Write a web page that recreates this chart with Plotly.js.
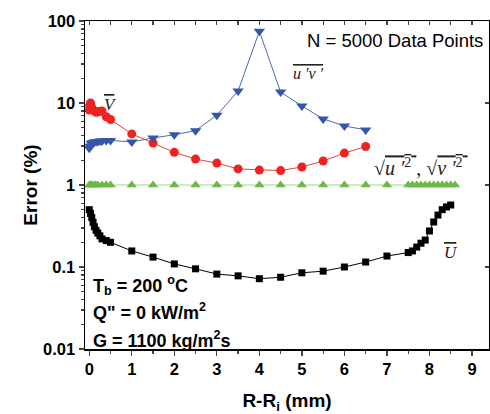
<!DOCTYPE html>
<html>
<head>
<meta charset="utf-8">
<script src="https://cdn.plot.ly/plotly-3.0.1.min.js"></script>
<style>html,body{margin:0;padding:0;background:#fff;}#chart{width:490px;height:414px;}</style>
</head>
<body>
<div id="chart"></div>
<script>
// Mean axial velocity U
const uX   = [0, 0.03, 0.06, 0.09, 0.12, 0.16, 0.2, 0.25, 0.3, 0.4, 0.5, 1, 1.5, 2, 2.5, 3, 3.5, 4, 4.5, 5, 5.5, 6, 6.5, 7, 7.5, 7.6, 7.7, 7.8, 7.9, 8.0, 8.1, 8.2, 8.3, 8.4, 8.5];
const uErr = [0.5, 0.45, 0.40, 0.35, 0.31, 0.28, 0.26, 0.24, 0.22, 0.21, 0.20, 0.157, 0.132, 0.109, 0.095, 0.082, 0.078, 0.072, 0.075, 0.085, 0.089, 0.1, 0.115, 0.136, 0.15, 0.157, 0.175, 0.195, 0.213, 0.275, 0.354, 0.43, 0.5, 0.54, 0.57];
// Mean radial velocity V
const vX   = [0, 0.01, 0.03, 0.05, 0.08, 0.12, 0.16, 0.2, 0.25, 0.3, 0.4, 0.5, 1, 1.5, 2, 2.5, 3, 3.5, 4, 4.5, 5, 5.5, 6, 6.5];
const vErr = [8.2, 9.3, 10.0, 9.0, 8.3, 8.0, 7.7, 7.8, 7.9, 8.0, 6.8, 6.3, 4.2, 3.25, 2.5, 2.07, 1.85, 1.57, 1.52, 1.5, 1.66, 1.96, 2.45, 2.95];
// Reynolds shear stress u'v'
const uvX   = [0, 0.02, 0.05, 0.08, 0.12, 0.16, 0.2, 0.25, 0.3, 0.4, 0.5, 1, 1.5, 2, 2.5, 3, 3.5, 4, 4.5, 5, 5.5, 6, 6.5];
const uvErr = [2.8, 3.0, 3.2, 3.3, 3.35, 3.4, 3.4, 3.45, 3.45, 3.5, 3.5, 3.35, 3.75, 4.1, 4.6, 7.1, 14, 75, 13.6, 9.2, 6.4, 5.25, 4.7];
// RMS fluctuations
const rmsX   = [0, 0.03, 0.06, 0.1, 0.15, 0.2, 0.3, 0.4, 0.5, 1, 1.5, 2, 2.5, 3, 3.5, 4, 4.5, 5, 5.5, 6, 6.5, 7, 7.5, 7.6, 7.7, 7.8, 7.9, 8.0, 8.1, 8.2, 8.3, 8.4, 8.5, 8.6];
const rmsErr = [1, 1, 1, 1, 1, 1, 1, 1, 1, 1, 1, 1, 1, 1, 1, 1, 1, 1, 1, 1, 1, 1, 1, 1, 1, 1, 1, 1, 1, 1, 1, 1, 1, 1];

const xTicks = [0, 1, 2, 3, 4, 5, 6, 7, 8, 9];
const yTicks = [0.01, 0.1, 1, 10, 100];
const yTickText = ['0.01', '0.1', '1', '10', '100'];

const traces = [
  {x: rmsX, y: rmsErr, mode: 'lines+markers', line: {color: '#9fd38a', width: 1.2},
   marker: {symbol: 'triangle-up', size: 9, color: '#6cb945'}, name: 'rms'},
  {x: uX, y: uErr, mode: 'lines+markers', line: {color: '#000', width: 1},
   marker: {symbol: 'square', size: 7, color: '#000'}, name: 'U'},
  {x: vX, y: vErr, mode: 'lines+markers', line: {color: '#f03c3c', width: 1},
   marker: {symbol: 'circle', size: 9, color: '#ee2222'}, name: 'V'},
  {x: uvX, y: uvErr, mode: 'lines+markers', line: {color: '#4a68b8', width: 1},
   marker: {symbol: 'triangle-down', size: 10, color: '#3556a8'}, name: 'uv'},
  {x: [], y: [], xaxis: 'x2', yaxis: 'y2', showlegend: false, hoverinfo: 'skip'}
];

const tickFont = {family: 'Liberation Sans, Arial, sans-serif', size: 16.5, color: '#000', weight: 'bold'};
const serif = {family: 'Liberation Serif, Times New Roman, serif', size: 17, color: '#222'};
const boldFont = {family: 'Liberation Sans, Arial, sans-serif', size: 18, color: '#000', weight: 'bold'};
const ol = s => '<span style="text-decoration:overline">' + s + '</span>';

const layout = {
  width: 490, height: 414,
  margin: {l: 85, r: 1, t: 21, b: 65},
  paper_bgcolor: '#fff', plot_bgcolor: '#fff',
  showlegend: false,
  xaxis: {
    range: [-0.1, 9.4], tickvals: xTicks, ticks: 'outside', ticklen: 5, tickwidth: 1.3,
    minor: {dtick: 0.5, tick0: 0, ticks: 'outside', ticklen: 3, tickwidth: 1.3, showgrid: false},
    showline: true, linewidth: 1.5, linecolor: '#000', mirror: true, showgrid: false, zeroline: false,
    tickfont: tickFont,
    title: {text: '<b>R-R<sub>i</sub> (mm)</b>', font: {family: 'Liberation Sans, Arial, sans-serif', size: 19, color: '#000'}}
  },
  yaxis: {
    type: 'log', range: [-2, 2], tickvals: yTicks, ticktext: yTickText,
    ticks: 'outside', ticklen: 5, tickwidth: 1.3,
    minor: {dtick: 'D1', ticks: 'outside', ticklen: 3, tickwidth: 1.3, showgrid: false},
    showline: true, linewidth: 1.5, linecolor: '#000', mirror: true, showgrid: false, zeroline: false,
    tickfont: tickFont,
    title: {text: '<b>Error (%)</b>', font: {family: 'Liberation Sans, Arial, sans-serif', size: 19, color: '#000'}}
  },
  xaxis2: {
    overlaying: 'x', side: 'top', anchor: 'y', range: [-0.1, 9.4], tickvals: xTicks,
    ticks: 'inside', ticklen: 4, tickwidth: 1.3, showticklabels: false,
    minor: {dtick: 0.5, tick0: 0, ticks: 'inside', ticklen: 4, tickwidth: 1.3, showgrid: false},
    showline: false, showgrid: false, zeroline: false
  },
  yaxis2: {
    overlaying: 'y', side: 'right', anchor: 'x', type: 'log', range: [-2, 2], tickvals: yTicks,
    ticks: 'inside', ticklen: 4, tickwidth: 1.3, showticklabels: false,
    showline: false, showgrid: false, zeroline: false
  },
  annotations: [
    {xref: 'paper', yref: 'paper', x: 0.99, y: 0.94, xanchor: 'right', yanchor: 'middle', showarrow: false,
     text: 'N = 5000 Data Points', font: {family: 'Liberation Sans, Arial, sans-serif', size: 18.5, color: '#000'}},
    {xref: 'x', yref: 'paper', x: 0.05, y: 0.195, xanchor: 'left', yanchor: 'middle', showarrow: false,
     text: 'T<sub>b</sub> = 200 <sup>o</sup>C', font: boldFont},
    {xref: 'x', yref: 'paper', x: 0.05, y: 0.113, xanchor: 'left', yanchor: 'middle', showarrow: false,
     text: 'Q" = 0 kW/m<sup>2</sup>', font: boldFont},
    {xref: 'x', yref: 'paper', x: 0.05, y: 0.03, xanchor: 'left', yanchor: 'middle', showarrow: false,
     text: 'G = 1100 kg/m<sup>2</sup>s', font: boldFont},
    {xref: 'x', yref: 'paper', x: 0.3, y: 0.745, xanchor: 'left', yanchor: 'middle', showarrow: false,
     text: '<i>' + ol('V') + '</i>', font: serif},
    {xref: 'x', yref: 'paper', x: 4.75, y: 0.84, xanchor: 'left', yanchor: 'middle', showarrow: false,
     text: '<i>' + ol("u ′v ′") + '</i>', font: {family: serif.family, size: 16, color: '#222'}},
    {xref: 'x', yref: 'paper', x: 7.8, y: 0.555, xanchor: 'center', yanchor: 'middle', showarrow: false,
     text: '√' + ol("<i>u ′</i><sup>2</sup> ") + ', √' + ol("<i>v ′</i><sup>2</sup> "),
     font: {family: serif.family, size: 20, color: '#222'}},
    {xref: 'x', yref: 'paper', x: 8.3, y: 0.295, xanchor: 'left', yanchor: 'middle', showarrow: false,
     text: '<i>' + ol('U') + '</i>', font: serif}
  ]
};

Plotly.newPlot('chart', traces, layout, {displayModeBar: false, staticPlot: true});
</script>
</body>
</html>
